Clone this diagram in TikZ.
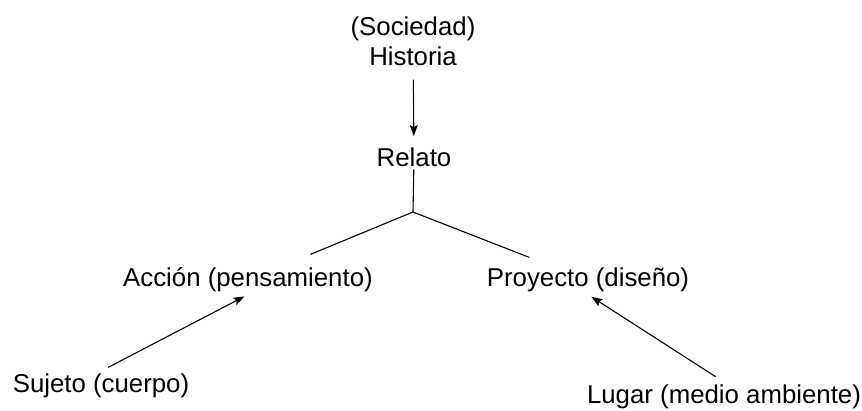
\documentclass[tikz,border=0pt]{standalone}
\usepackage{fontspec}
\setmainfont{Liberation Sans}
\usetikzlibrary{arrows.meta}

\begin{document}
\begin{tikzpicture}[x=1pt, y=-1pt,
    every node/.style={font=\fontsize{25.8}{30}\selectfont, inner sep=2pt},
    line/.style={line width=1.1pt},
    arrow/.style={line, -{Stealth[length=11pt, width=8pt, inset=2pt]}}]
\useasboundingbox (0,0) rectangle (862,411);
\node[align=center] (hist) at (413,41) {(Sociedad)\\Historia};
\node[anchor=base] (rel) at (414,167) {Relato};
\coordinate (fork) at (413,212);
\node[anchor=base] (acc) at (248,287) {Acción (pensamiento)};
\node[anchor=base] (pro) at (588,287) {Proyecto (diseño)};
\node[anchor=base] (suj) at (101,392) {Sujeto (cuerpo)};
\node[anchor=base] (lug) at (724,403) {Lugar (medio ambiente)};

\draw[arrow, shorten <=12pt, shorten >=10pt] (hist) -- (rel);
\draw[line] (rel) -- (fork);
\draw[line, shorten >=30pt] (fork) -- (acc);
\draw[line, shorten >=24pt] (fork) -- (pro);
\draw[arrow, shorten <=8pt, shorten >=4pt] (suj.north) -- (acc.south);
\draw[arrow, shorten <=10pt, shorten >=4pt] (lug.north) -- (pro.south);
\end{tikzpicture}
\end{document}
